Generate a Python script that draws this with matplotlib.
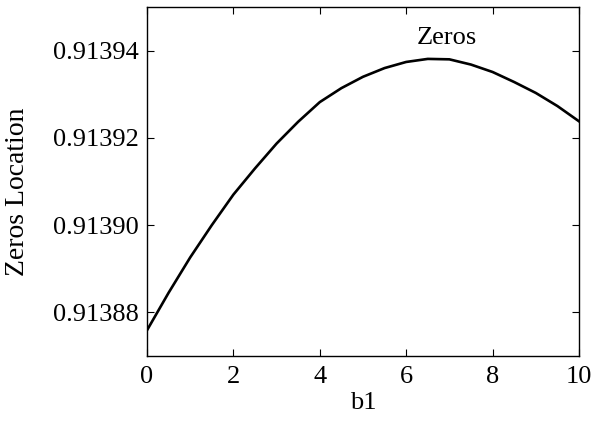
import matplotlib
matplotlib.use("Agg")
import matplotlib.pyplot as plt

# b1 parameter sweep and the resulting zero location
b1 = [0.0, 0.5, 1.0, 1.5, 2.0, 2.5, 3.0, 3.5, 4.0, 4.5, 5.0,
      5.5, 6.0, 6.5, 7.0, 7.5, 8.0, 8.5, 9.0, 9.5, 10.0]
zeros = [0.9138759, 0.9138845, 0.9138926, 0.9139000, 0.9139070,
         0.9139130, 0.9139187, 0.9139237, 0.9139282, 0.9139314,
         0.9139340, 0.9139360, 0.9139374, 0.9139381, 0.9139380,
         0.9139368, 0.9139351, 0.9139328, 0.9139303, 0.9139273,
         0.9139238]

xticks = [0, 2, 4, 6, 8, 10]
yticks = [0.91388, 0.91390, 0.91392, 0.91394]

plt.rcParams['font.family'] = ['Liberation Serif', 'DejaVu Serif']
plt.rcParams['font.size'] = 19

fig = plt.figure(figsize=(5.94, 4.21), dpi=100)
ax = fig.add_axes([0.2475, 0.1544, 0.7272, 0.829])

ax.plot(b1, zeros, color='black', linewidth=1.9)
ax.text(6.93, 0.913943, 'Zeros', ha='center', va='center')

ax.set_xlim(0, 10)
ax.set_ylim(0.91387, 0.91395)
ax.set_xticks(xticks)
ax.set_yticks(yticks)
ax.set_yticklabels(['%.5f' % v for v in yticks])
ax.tick_params(direction='in', length=5, width=0.8, top=True, right=True)
ax.tick_params(axis='y', pad=6)
ax.tick_params(axis='x', pad=7)
for s in ax.spines.values():
    s.set_linewidth(1.0)

ax.set_xlabel('b1', labelpad=3)
ax.set_ylabel('Zeros Location', fontsize=20)
ax.yaxis.set_label_coords(-0.27, 0.47)

fig.savefig('out.png', dpi=100)
